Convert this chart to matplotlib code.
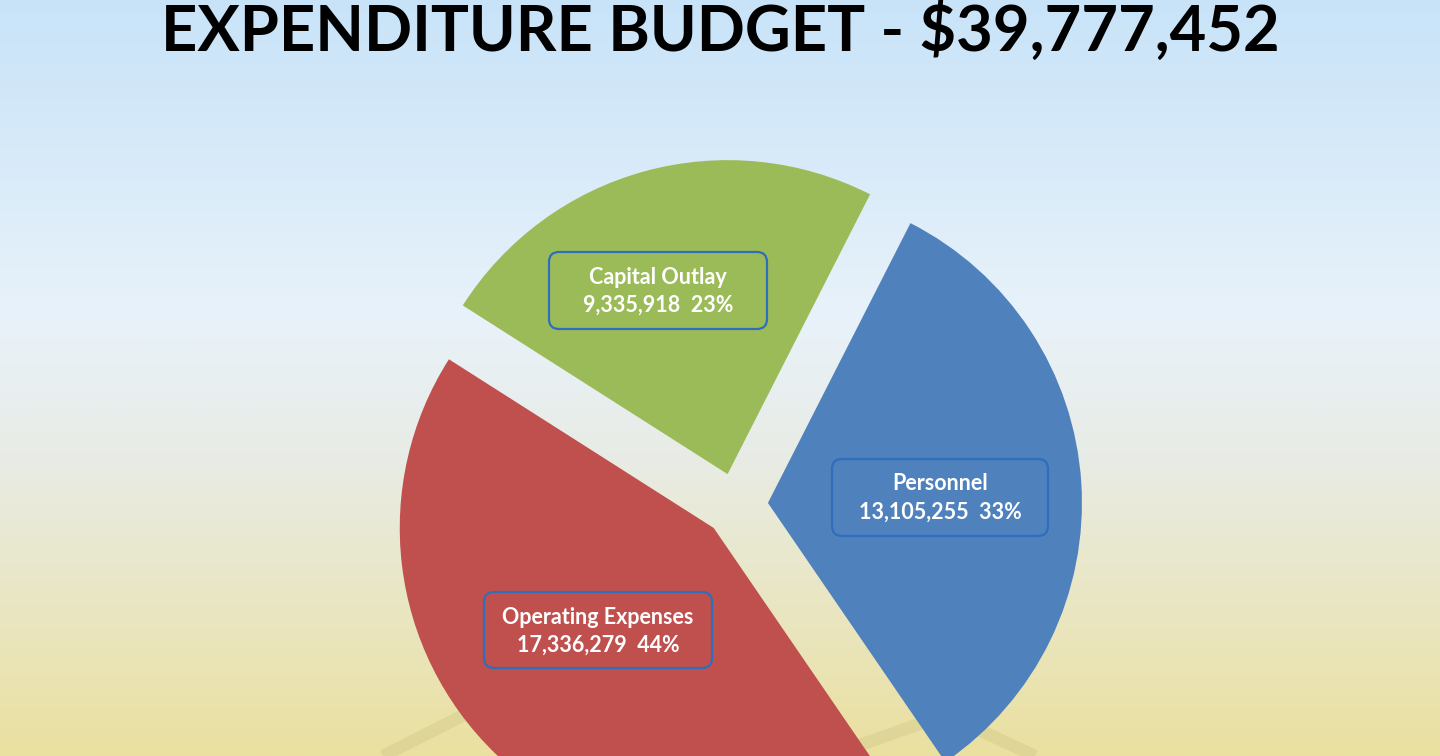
import numpy as np
import matplotlib.pyplot as plt
from matplotlib.colors import LinearSegmentedColormap
from matplotlib.patches import FancyBboxPatch

categories = ['Personnel', 'Capital Outlay', 'Operating Expenses']
amounts = [13105255, 9335918, 17336279]
colors = ['#4F81BD', '#9BBB59', '#C0504D']

total = sum(amounts)
W, H = 1440, 756
R = 314.0          # pie radius in pixels
cx, cy = 736, 505  # pie centre in pixels (from top)

fig = plt.figure(figsize=(W / 100, H / 100), dpi=100)

# background gradient
bg = fig.add_axes([0, 0, 1, 1], zorder=0)
cmap = LinearSegmentedColormap.from_list('bg', [
    (0.0, '#C8E3F8'), (0.42, '#E8F2FA'), (0.6, '#E8ECE6'), (1.0, '#EBE0A0')])
bg.imshow(np.linspace(0, 1, 256).reshape(-1, 1), aspect='auto', cmap=cmap,
          extent=[0, W, H, 0])
# faint shadow of the stand behind the pie
for xs, ys in [([383, 470], [756, 712]), ([860, 925], [745, 722]),
               ([975, 1035], [728, 756])]:
    bg.plot(xs, ys, color='#D8CF90', lw=9, alpha=0.6, solid_capstyle='butt')
bg.set_xlim(0, W)
bg.set_ylim(H, 0)
bg.axis('off')

# pie, radius 1 with axes limits chosen so one unit = R pixels
ax = fig.add_axes([0, 0, 1, 1], zorder=1)
ax.patch.set_alpha(0)
ax.pie(amounts, colors=colors, startangle=-55.6, counterclock=True,
       explode=[32 / R] * 3, radius=1, center=(0, 0),
       wedgeprops=dict(linewidth=0))
ax.set_xlim(-cx / R, (W - cx) / R)
ax.set_ylim(-(H - cy) / R, cy / R)
ax.set_aspect('auto')
ax.axis('off')

# labels and boxes in pixel coordinates
top = fig.add_axes([0, 0, 1, 1], zorder=2)
top.patch.set_alpha(0)
top.set_xlim(0, W)
top.set_ylim(H, 0)
top.axis('off')

boxes = {'Personnel': (832, 459, 216, 77),
         'Capital Outlay': (549, 252, 218, 77),
         'Operating Expenses': (484, 592, 228, 76)}
for name, amt in zip(categories, amounts):
    x0, y0, bw, bh = boxes[name]
    top.add_patch(FancyBboxPatch((x0, y0), bw, bh,
                                 boxstyle='round,pad=0,rounding_size=10',
                                 fc='none', ec='#2F6EBA', lw=1.6))
    xc = x0 + bw / 2
    pct = round(amt / total * 100)
    top.text(xc, y0 + 25, name, ha='center', va='center', color='white',
             fontsize=15.5, fontweight='bold', family='Lato')
    top.text(xc, y0 + 53, f'{amt:,}  {pct}%', ha='center', va='center',
             color='white', fontsize=15.5, fontweight='bold', family='Lato')

fig.text(720 / W, 1 - 51 / H, f'EXPENDITURE BUDGET - ${total:,}', ha='center',
         va='baseline', fontsize=45.5, fontweight='bold', family='Lato',
         color='black')

fig.savefig('out.png', dpi=100)
